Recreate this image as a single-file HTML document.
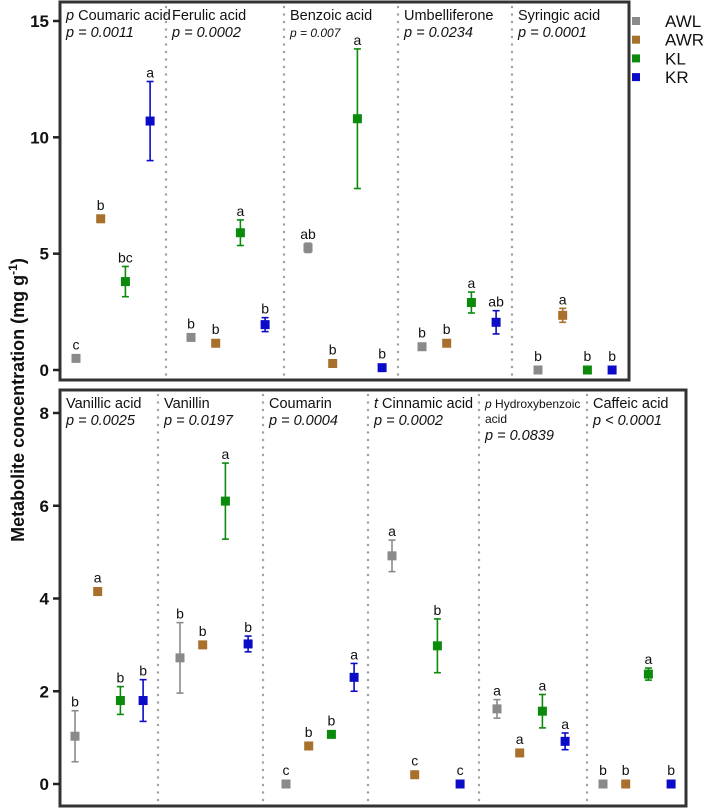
<!DOCTYPE html>
<html><head><meta charset="utf-8"><style>
body{margin:0;background:#fff;}
svg{display:block;font-family:"Liberation Sans",Arial,sans-serif;}
</style></head><body>
<svg id="chart" width="709" height="810"></svg>
<script>
const groupNames=["AWL","AWR","KL","KR"];
const colors=["#8a8a8a","#a8702c","#0b8a0b","#0c0cc8"];
// top panel
const topTitles=[["p Coumaric acid","p = 0.0011"],["Ferulic acid","p = 0.0002"],["Benzoic acid","p = 0.007"],["Umbelliferone","p = 0.0234"],["Syringic acid","p = 0.0001"]];
const topMeans=[[0.5,6.5,3.8,10.7],[1.4,1.15,5.9,1.95],[5.25,0.28,10.8,0.1],[1.0,1.15,2.9,2.05],[0,2.35,0,0]];
const topErr=[[0,0.15,0.65,1.7],[0,0,0.55,0.3],[0.2,0,3.0,0],[0,0,0.45,0.5],[0,0.3,0,0]];
const topLetters=[["c","b","bc","a"],["b","b","a","b"],["ab","b","a","b"],["b","b","a","ab"],["b","a","b","b"]];
const topTicks=[0,5,10,15];
// bottom panel
const botTitles=[["Vanillic acid","p = 0.0025"],["Vanillin","p = 0.0197"],["Coumarin","p = 0.0004"],["t Cinnamic acid","p = 0.0002"],["p Hydroxybenzoic","acid","p = 0.0839"],["Caffeic acid","p < 0.0001"]];
const botMeans=[[1.03,4.15,1.8,1.8],[2.72,3.0,6.1,3.02],[0,0.82,1.07,2.3],[4.92,0.2,2.98,0],[1.62,0.67,1.57,0.92],[0,0,2.37,0]];
const botErr=[[0.55,0.08,0.3,0.45],[0.76,0,0.82,0.17],[0,0,0,0.3],[0.34,0,0.58,0],[0.2,0,0.36,0.18],[0,0,0.13,0]];
const botLetters=[["b","a","b","b"],["b","b","a","b"],["c","b","b","a"],["a","c","b","c"],["a","a","a","a"],["b","b","a","b"]];
const botTicks=[0,2,4,6,8];

const svg=document.getElementById('chart');
const NS="http://www.w3.org/2000/svg";
function mk(tag,attrs,parent){const e=document.createElementNS(NS,tag);for(const k in attrs)e.setAttribute(k,attrs[k]);(parent||svg).appendChild(e);return e;}

function panel(cfg){
  const {cols,firstOff,step,y0,y1,zeroY,topV,topY,titles,means,errs,letters,ticks,name}=cfg;
  const x0=cols[0], x1=cols[cols.length-1];
  const g=mk('g',{});
  
  
  const yS=v=>zeroY-(zeroY-topY)*v/topV;
  const n=titles.length;
  for(let i=1;i<n;i++){
    const dx=cols[i];
    const l=mk('line',{x1:dx,x2:dx,y1:y0+5,y2:y1,stroke:'#a0a0a0','stroke-width':2.4,'stroke-dasharray':'0.1 7.4','stroke-linecap':'round'},g);
    
    
  }
  const fr=mk('rect',{x:x0,y:y0,width:x1-x0,height:y1-y0,fill:'none',stroke:'#333','stroke-width':3},g);
  
  
  ticks.forEach(t=>{
    const y=yS(t);
    mk('line',{x1:x0-7,x2:x0,y1:y,y2:y,stroke:'#222','stroke-width':2.5},g);
    const tx=mk('text',{x:x0-11,y:y+6,'text-anchor':'end','font-size':17,'font-weight':'bold',fill:'#111'},g);
    tx.textContent=t;
    
    
  });
  for(let i=0;i<n;i++){
    const gx=cols[i];
    const t=titles[i];
    const small=t.length===3;
    t.forEach((line,j)=>{
      const isP=line.startsWith('p =')||line.startsWith('p <');
      const ys=small?[18,33,50][j]:[18,35][j];
      let fs=small?(j<2?12:14.5):14.5;
      if(cfg.smallP && cfg.smallP.includes(i) && isP) fs=12;
      const tx=mk('text',{x:gx+6,y:y0+ys,'font-size':fs,'font-style':isP?'italic':'normal',fill:'#111'},g);
      if(!isP && (line.startsWith('p ')||line.startsWith('t '))){
        const s=mk('tspan',{'font-style':'italic'},tx);s.textContent=line[0];
        const s2=mk('tspan',{},tx);s2.textContent=line.slice(1);
      } else tx.textContent=line;
      
      
    });
    for(let k=0;k<4;k++){
      const cx=gx+firstOff[i]+step*k;
      const m=means[i][k], e=errs[i][k];
      const cy=yS(m);
      const pt=mk('g',{},g);
      
      
      let topEdge=cy-5;
      if(e>0){
        const ya=yS(m+e), yb=yS(m-e);
        mk('line',{x1:cx,x2:cx,y1:ya,y2:yb,stroke:colors[k],'stroke-width':1.6},pt);
        mk('line',{x1:cx-3.5,x2:cx+3.5,y1:ya,y2:ya,stroke:colors[k],'stroke-width':1.6},pt);
        mk('line',{x1:cx-3.5,x2:cx+3.5,y1:yb,y2:yb,stroke:colors[k],'stroke-width':1.6},pt);
        topEdge=Math.min(topEdge,ya);
      }
      mk('rect',{x:cx-4.5,y:cy-4.5,width:9,height:9,fill:colors[k]},pt);
      const lt=mk('text',{x:cx,y:topEdge-4,'text-anchor':'middle','font-size':14,fill:'#111'},pt);
      lt.textContent=letters[i][k];
      
      
    }
  }
}
panel({cols:[60,166,284,398,512,629],firstOff:[16,25,24,24,26],step:24.7,y0:2,y1:380,zeroY:370,topV:15,topY:21,titles:topTitles,means:topMeans,errs:topErr,letters:topLetters,ticks:topTicks,name:'top-panel',smallP:[2]});
panel({cols:[60,158,263,368,479,587,686],firstOff:[15,22,23,24,18,16],step:22.7,y0:390,y1:806,zeroY:784,topV:8,topY:413,titles:botTitles,means:botMeans,errs:botErr,letters:botLetters,ticks:botTicks,name:'bottom-panel'});

groupNames.forEach((gname,k)=>{
  const lg=mk('g',{});
  
  
  const y=21+18.7*k;
  mk('rect',{x:632,y:y-4,width:8,height:8,fill:colors[k]},lg);
  const t=mk('text',{x:665,y:y+6,'font-size':17,fill:'#111'},lg);
  t.textContent=gname;
});
const yt=mk('text',{transform:'translate(24,400) rotate(-90)','text-anchor':'middle','font-size':18,'font-weight':'bold',fill:'#111'});


yt.textContent='Metabolite concentration (mg g';
const sup=mk('tspan',{dy:-7,'font-size':12},yt);sup.textContent='-1';
const cl=mk('tspan',{dy:7},yt);cl.textContent=')';
</script>
</body></html>
